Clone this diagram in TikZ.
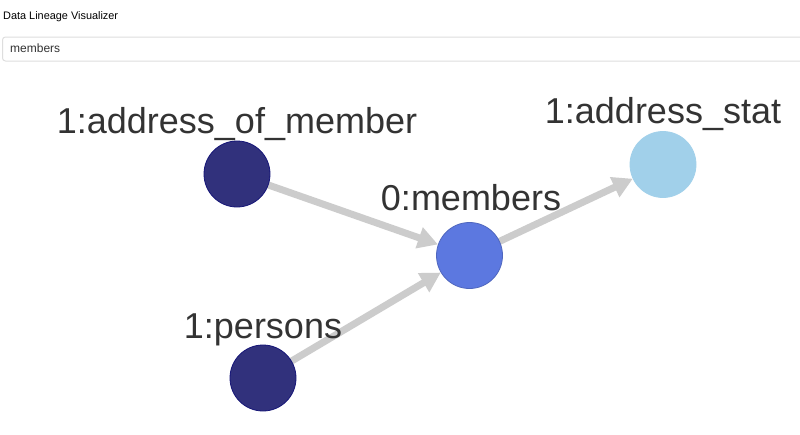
\documentclass[tikz,border=0pt]{standalone}
\usepackage{fontspec}
\setmainfont{Liberation Sans}
\usetikzlibrary{arrows.meta}
\definecolor{navy}{RGB}{49,49,124}
\definecolor{navyline}{RGB}{22,22,120}
\definecolor{midblue}{RGB}{92,120,224}
\definecolor{lightblue}{RGB}{161,208,234}
\definecolor{edgegray}{RGB}{204,204,204}
\definecolor{labelgray}{RGB}{51,51,51}
\definecolor{boxgray}{RGB}{222,222,222}
\begin{document}
\begin{tikzpicture}[x=1pt,y=-1pt,
  vnode/.style={circle,minimum size=66pt,inner sep=0pt,line width=0.8pt},
  vlabel/.style={anchor=base,text=labelgray,font=\fontsize{36}{40}\selectfont,inner sep=0pt},
  link/.style={draw=edgegray,line width=7pt,-{Triangle[length=20pt,width=21pt]}}]
\useasboundingbox (0,0) rectangle (800,434);
\fill[white] (0,0) rectangle (800,434);
\node[anchor=base west,inner sep=0pt,font=\fontsize{10.9}{12}\selectfont,text=black] (title) at (3,19) {Data Lineage Visualizer};
\draw[boxgray,line width=1pt,rounded corners=3pt] (2.5,37) rectangle (810,61);
\node[anchor=base west,inner sep=0pt,font=\fontsize{12}{14}\selectfont,text=labelgray] (query) at (10,52.5) {members};
% node positions
\coordinate (caom) at (237,174);
\coordinate (cmem) at (469.5,255.5);
\coordinate (cstat) at (663,164.5);
\coordinate (cper) at (263,378);
% invisible node outlines used as edge targets
\node[vnode] (aom) at (caom) {};
\node[vnode] (mem) at (cmem) {};
\node[vnode] (stat) at (cstat) {};
\node[vnode] (per) at (cper) {};
% edges
\draw[link] (aom.center) -- (mem);
\draw[link] (per.center) -- (mem);
\draw[link] (mem.center) -- (stat);
% visible nodes on top of the edges
\node[vnode,fill=navy,draw=navyline] (aomdisk) at (caom) {};
\node[vnode,fill=midblue,draw=midblue!85!black] (memdisk) at (cmem) {};
\node[vnode,fill=lightblue,draw=lightblue] (statdisk) at (cstat) {};
\node[vnode,fill=navy,draw=navyline] (perdisk) at (cper) {};
% labels
\node[vlabel] (laom) at (237,133) {1:address\_of\_member};
\node[vlabel] (lmem) at (471,210) {0:members};
\node[vlabel] (lstat) at (663,123) {1:address\_stat};
\node[vlabel] (lper) at (263,338) {1:persons};
\end{tikzpicture}
\end{document}
